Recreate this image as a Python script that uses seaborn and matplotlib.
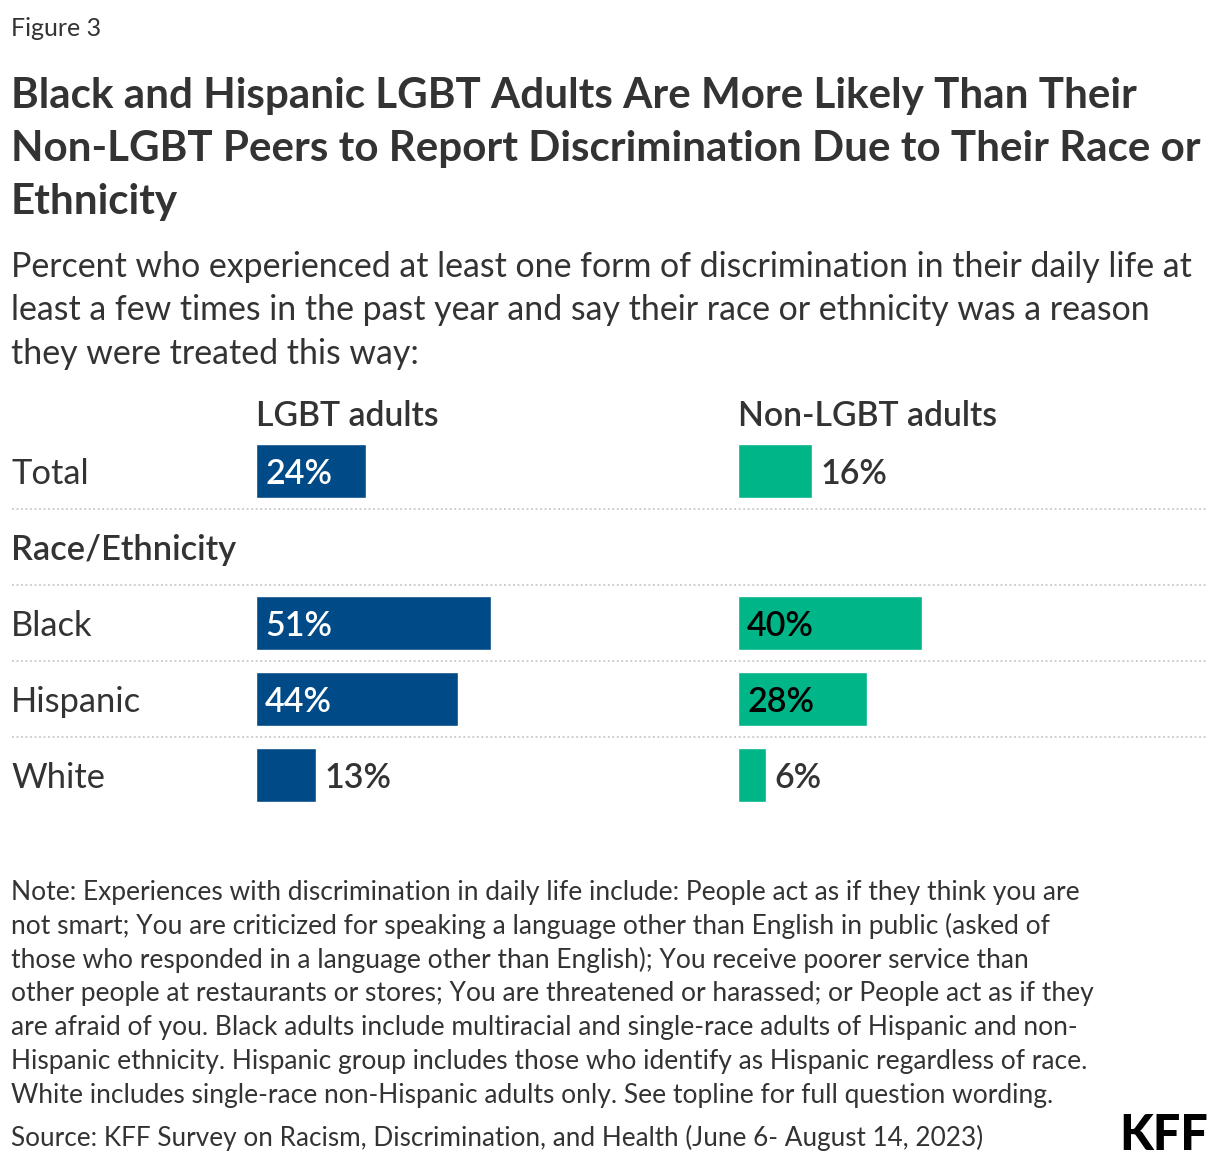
import numpy as np
import pandas as pd
import matplotlib
matplotlib.use("Agg")
import matplotlib.pyplot as plt
import seaborn as sns

# ---------------- data ----------------
rows = ["Total", "Race/Ethnicity", "Black", "Hispanic", "White"]
groups = ["Total", "Black", "Hispanic", "White"]
lgbt_values = [24, 51, 44, 13]
non_lgbt_values = [16, 40, 28, 6]
panel_titles = ["LGBT adults", "Non-LGBT adults"]

title_lines = [
    "Black and Hispanic LGBT Adults Are More Likely Than Their",
    "Non-LGBT Peers to Report Discrimination Due to Their Race or",
    "Ethnicity",
]
subtitle_lines = [
    "Percent who experienced at least one form of discrimination in their daily life at",
    "least a few times in the past year and say their race or ethnicity was a reason",
    "they were treated this way:",
]
note_lines = [
    "Note: Experiences with discrimination in daily life include: People act as if they think you are",
    "not smart; You are criticized for speaking a language other than English in public (asked of",
    "those who responded in a language other than English); You receive poorer service than",
    "other people at restaurants or stores; You are threatened or harassed; or People act as if they",
    "are afraid of you. Black adults include multiracial and single-race adults of Hispanic and non-",
    "Hispanic ethnicity. Hispanic group includes those who identify as Hispanic regardless of race.",
    "White includes single-race non-Hispanic adults only. See topline for full question wording.",
]
source_text = "Source: KFF Survey on Racism, Discrimination, and Health (June 6- August 14, 2023)"

# ---------------- style ----------------
sns.set_theme(style="white")
FONT = "Lato"
plt.rcParams["font.family"] = [FONT, "DejaVu Sans"]

BLUE = "#004A87"
GREEN = "#00B588"
DARK = "#333333"

W, H = 1220, 1164
fig = plt.figure(figsize=(W / 100, H / 100), dpi=100)
fig.patch.set_facecolor("white")


def fx(px):
    return px / W


def fy(py):
    return 1 - py / H


# header texts
fig.text(fx(11), fy(36), "Figure 3", fontsize=18, color=DARK, va="baseline")
for i, line in enumerate(title_lines):
    fig.text(fx(11), fy(108 + 53 * i), line, fontsize=30.3, fontweight="bold",
             color=DARK, va="baseline")
for i, line in enumerate(subtitle_lines):
    fig.text(fx(11), fy(277 + 43.5 * i), line, fontsize=24.4, color=DARK, va="baseline")

# ---------------- chart area ----------------
y_top_px, y_bot_px = 433, 813
ax_bottom = fy(y_bot_px)
ax_height = (y_bot_px - y_top_px) / H
BASE_OFF = -9  # points from row centre down to text baseline

# background axes for row labels and separators
bg = fig.add_axes([fx(12), ax_bottom, fx(1208 - 12), ax_height])
bg.set_xlim(0, 1)
bg.set_ylim(len(rows) - 0.5, -0.5)
bg.axis("off")
for k in range(len(rows) - 1):
    bg.axhline(k + 0.5, color="#c8c8c8", linestyle=(0, (1, 1.5)), linewidth=1.3)
for k, r in enumerate(rows):
    bold = r == "Race/Ethnicity"
    bg.annotate(r, xy=(0, k), xytext=(-0.5, BASE_OFF), textcoords="offset points",
                fontsize=24.8, color=DARK, va="baseline", ha="left",
                fontweight="semibold" if bold else "normal")

px_per_pct = 4.6
panels = [
    (256, lgbt_values, BLUE, "white"),
    (738, non_lgbt_values, GREEN, "black"),
]
for (x0, vals, col, inside_col), ptitle in zip(panels, panel_titles):
    ax = fig.add_axes([fx(x0), ax_bottom, fx(100 * px_per_pct), ax_height])
    df = pd.DataFrame({"group": groups, "value": vals})
    sns.barplot(data=df, y="group", x="value", order=rows, color=col,
                saturation=1, width=0.7, ax=ax, orient="h")
    ax.set_xlim(0, 100)
    ax.set_ylim(len(rows) - 0.5, -0.5)
    ax.axis("off")
    ax.patch.set_alpha(0)
    for g, v in zip(groups, vals):
        yi = rows.index(g)
        if v >= 20:
            ax.annotate(f"{v}%", xy=(0, yi), xytext=(6.5, BASE_OFF), textcoords="offset points",
                        va="baseline", ha="left", fontsize=24.5, fontweight="semibold",
                        color=inside_col)
        else:
            ax.annotate(f"{v}%", xy=(v, yi), xytext=(6.5, BASE_OFF), textcoords="offset points",
                        va="baseline", ha="left", fontsize=24.5, fontweight="semibold",
                        color=DARK)
    fig.text(fx(x0), fy(426), ptitle, fontsize=24.3, fontweight="semibold",
             color=DARK, va="baseline", ha="left")

# ---------------- notes ----------------
for i, line in enumerate(note_lines):
    fig.text(fx(11), fy(900 + 33.8 * i), line, fontsize=19, color=DARK, va="baseline")
fig.text(fx(11), fy(1146), source_text, fontsize=18.8, color=DARK, va="baseline")
fig.text(fx(1208), fy(1150), "KFF", fontsize=35, fontweight="black", color="black",
         va="baseline", ha="right")

fig.savefig("out.png", dpi=100, facecolor="white")
